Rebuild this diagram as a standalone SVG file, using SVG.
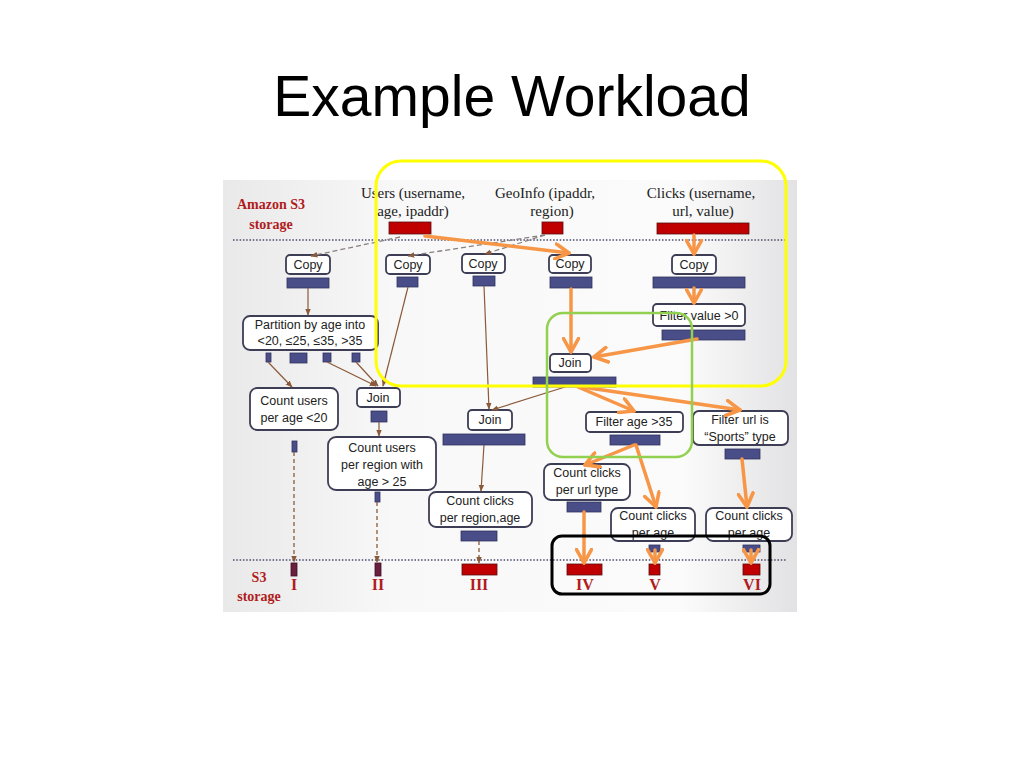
<svg xmlns="http://www.w3.org/2000/svg" width="1024" height="768" viewBox="0 0 1024 768">
<defs>
<linearGradient id="bg" x1="0" y1="0" x2="1" y2="0">
<stop offset="0" stop-color="#e9e9ea"/>
<stop offset="0.3" stop-color="#f8f8f8"/>
<stop offset="0.8" stop-color="#fbfbfb"/>
<stop offset="1" stop-color="#e2e2e4"/>
</linearGradient>
<marker id="ab" viewBox="0 0 10 10" refX="9" refY="5" markerWidth="7" markerHeight="7" orient="auto" markerUnits="userSpaceOnUse">
<path d="M0,1 L10,5 L0,9 Z" fill="#8a5a3a"/>
</marker>
<marker id="ao" viewBox="0 0 12 12" refX="10" refY="6" markerWidth="18" markerHeight="18" orient="auto" markerUnits="userSpaceOnUse">
<path d="M1,1 L10,6 L1,11" fill="none" stroke="#f79646" stroke-width="2.4" stroke-linecap="round" stroke-linejoin="round"/>
</marker>
</defs>
<style>
.node{fill:#ffffff;stroke:#3d3d55;stroke-width:1.8}
.bar{fill:#4a4e88;stroke:#30325e;stroke-width:0.8}
.red{fill:#c00000;stroke:#5a1010;stroke-width:0.8}
.dk{fill:#6a1f3c;stroke:#40102a;stroke-width:0.8}
.t{font-family:"Liberation Sans",Arial,sans-serif;font-size:12.5px;fill:#222;text-anchor:middle}
.s{font-family:"Liberation Serif","Times New Roman",serif;font-size:15px;fill:#222;text-anchor:middle}
.rl{font-family:"Liberation Serif","Times New Roman",serif;font-size:14px;font-weight:bold;fill:#b01c1c;text-anchor:middle}
.rn{font-family:"Liberation Serif","Times New Roman",serif;font-size:16px;font-weight:bold;fill:#b01c1c;text-anchor:middle}
.br{stroke:#8a5a3a;stroke-width:1.2;fill:none;marker-end:url(#ab)}
.brd{stroke:#8a5a3a;stroke-width:1.3;fill:none;stroke-dasharray:4,3;marker-end:url(#ab)}
.gd{stroke:#8a8080;stroke-width:1.3;fill:none;stroke-dasharray:5,3;marker-end:url(#ab)}
.or{stroke:#f79646;stroke-width:3.5;fill:none;marker-end:url(#ao);stroke-linecap:round}
.dot{stroke:#4a4a6a;stroke-width:1.3;stroke-dasharray:1.5,1.8}
</style>
<rect width="1024" height="768" fill="#ffffff"/>
<text x="512" y="116" font-family="Liberation Sans,Arial,sans-serif" font-size="57" text-anchor="middle" fill="#000">Example Workload</text>
<rect x="223" y="180" width="574" height="432" fill="url(#bg)"/>
<line class="dot" x1="233" y1="240" x2="787" y2="240"/>
<line class="dot" x1="233" y1="560" x2="787" y2="560"/>
<g id="labels">
<text class="rl" x="271" y="209">Amazon S3</text>
<text class="rl" x="271" y="229">storage</text>
<text class="rl" x="259" y="582">S3</text>
<text class="rl" x="259" y="601">storage</text>
</g>
<g id="users">
<text class="s" x="413" y="198">Users (username,</text>
<text class="s" x="413" y="216">age, ipaddr)</text>
<rect class="red" x="389" y="222" width="42" height="12"/>
</g>
<g id="geoinfo">
<text class="s" x="545" y="198">GeoInfo (ipaddr,</text>
<text class="s" x="552" y="216">region)</text>
<rect class="red" x="542" y="222" width="21" height="12"/>
</g>
<g id="clicks">
<text class="s" x="701" y="198">Clicks (username,</text>
<text class="s" x="703" y="216">url, value)</text>
<rect class="red" x="657" y="223" width="92" height="11"/>
</g>
<g id="copy1"><rect class="node" x="286" y="255" width="44" height="19" rx="4"/><text class="t" x="308" y="269">Copy</text><rect class="bar" x="287" y="278" width="42" height="10"/></g>
<g id="copy2"><rect class="node" x="386" y="255" width="44" height="19" rx="4"/><text class="t" x="408" y="269">Copy</text><rect class="bar" x="397" y="277" width="21" height="10"/></g>
<g id="copy3"><rect class="node" x="462" y="254" width="43" height="19" rx="4"/><text class="t" x="483" y="268">Copy</text><rect class="bar" x="473" y="276" width="22" height="10"/></g>
<g id="copy4"><rect class="node" x="549" y="255" width="42" height="18" rx="4"/><text class="t" x="570" y="268">Copy</text><rect class="bar" x="550" y="277" width="42" height="11"/></g>
<g id="copy5"><rect class="node" x="672" y="255" width="44" height="19" rx="4"/><text class="t" x="694" y="269">Copy</text><rect class="bar" x="653" y="277" width="92" height="11"/></g>
<g id="filtervalue"><rect class="node" x="653" y="304" width="92" height="22" rx="4"/><text class="t" x="699" y="320">Filter value &gt;0</text><rect class="bar" x="662" y="330" width="83" height="10"/></g>
<g id="join-green"><rect class="node" x="550" y="354" width="41" height="18" rx="4"/><text class="t" x="570" y="367">Join</text><rect class="bar" x="533" y="377" width="83" height="10"/></g>
<g id="partition"><rect class="node" x="243" y="316" width="135" height="34" rx="7"/><text class="t" x="310" y="329">Partition by age into</text><text class="t" x="310" y="345">&lt;20, ≤25, ≤35, &gt;35</text>
<rect class="bar" x="266" y="353" width="5" height="9"/><rect class="bar" x="290" y="353" width="17" height="10"/><rect class="bar" x="323" y="353" width="8" height="9"/><rect class="bar" x="352" y="353" width="8" height="9"/></g>
<g id="countusers20"><rect class="node" x="250" y="388" width="88" height="42" rx="7"/><text class="t" x="294" y="405">Count users</text><text class="t" x="294" y="422">per age &lt;20</text><rect class="bar" x="292" y="441" width="5" height="11"/></g>
<g id="join-left"><rect class="node" x="357" y="388" width="43" height="19" rx="4"/><text class="t" x="378" y="402">Join</text><rect class="bar" x="371" y="411" width="16" height="11"/></g>
<g id="countusersregion"><rect class="node" x="328" y="437" width="108" height="53" rx="8"/><text class="t" x="382" y="452">Count users</text><text class="t" x="382" y="469">per region with</text><text class="t" x="382" y="486">age &gt; 25</text><rect class="bar" x="375" y="492" width="5" height="10"/></g>
<g id="join-mid"><rect class="node" x="468" y="410" width="44" height="20" rx="4"/><text class="t" x="490" y="424">Join</text><rect class="bar" x="443" y="434" width="82" height="11"/></g>
<g id="countclicksregion"><rect class="node" x="429" y="492" width="103" height="35" rx="7"/><text class="t" x="480" y="505">Count clicks</text><text class="t" x="480" y="522">per region,age</text><rect class="bar" x="461" y="531" width="36" height="10"/></g>
<g id="filterage"><rect class="node" x="586" y="412" width="97" height="20" rx="4"/><text class="t" x="634" y="426">Filter age &gt;35</text><rect class="bar" x="610" y="435" width="50" height="10"/></g>
<g id="filterurl"><rect class="node" x="693" y="411" width="95" height="34" rx="6"/><text class="t" x="740" y="424">Filter url is</text><text class="t" x="740" y="441">“Sports” type</text><rect class="bar" x="725" y="449" width="35" height="10"/></g>
<g id="countclicksurl"><rect class="node" x="544" y="464" width="86" height="36" rx="7"/><text class="t" x="587" y="477">Count clicks</text><text class="t" x="587" y="494">per url type</text><rect class="bar" x="567" y="502" width="34" height="10"/></g>
<g id="countclicksage5"><rect class="node" x="611" y="508" width="84" height="33" rx="7"/><text class="t" x="653" y="520">Count clicks</text><text class="t" x="653" y="537">per age</text><rect class="bar" x="649" y="545" width="11" height="7"/></g>
<g id="countclicksage6"><rect class="node" x="706" y="508" width="86" height="33" rx="7"/><text class="t" x="749" y="520">Count clicks</text><text class="t" x="749" y="537">per age</text><rect class="bar" x="743" y="545" width="17" height="7"/></g>
<g id="outputs">
<rect class="dk" x="291" y="563" width="6" height="13"/><text class="rn" x="294" y="590">I</text>
<rect class="dk" x="375" y="563" width="6" height="13"/><text class="rn" x="378" y="590">II</text>
<rect class="red" x="462" y="564" width="35" height="11"/><text class="rn" x="479" y="590">III</text>
<rect class="red" x="567" y="564" width="35" height="11"/><text class="rn" x="585" y="590">IV</text>
<rect class="red" x="649" y="564" width="11" height="11"/><text class="rn" x="655" y="590">V</text>
<rect class="red" x="743" y="564" width="17" height="11"/><text class="rn" x="752" y="590">VI</text>
</g>
<g id="connectors">
<path class="gd" d="M400,237 L311,256"/>
<path class="gd" d="M545,235 L408,256"/>
<path class="gd" d="M545,235 L485,254"/>
<path class="br" d="M308,288 L308,315"/>
<path class="br" d="M408,287 L383,386"/>
<path class="br" d="M268,362 L292,387"/>
<path class="br" d="M327,362 L376,386"/>
<path class="br" d="M356,362 L378,386"/>
<path class="br" d="M379,422 L379,436"/>
<path class="br" d="M484,286 L489,409"/>
<path class="br" d="M565,387 L492,410"/>
<path class="br" d="M484,445 L481,491"/>
<path class="brd" d="M294,452 L294,562"/>
<path class="brd" d="M377,502 L377,562"/>
<path class="brd" d="M479,541 L479,563"/>
<path class="or" d="M425,236 L569,253"/>
<path class="or" d="M694,235 L694,254"/>
<path class="or" d="M694,288 L694,303"/>
<path class="or" d="M571,289 L571,352"/>
<path class="or" d="M697,339 L594,357"/>
<path class="or" d="M578,387 L634,411"/>
<path class="or" d="M582,387 L740,410"/>
<path class="or" d="M634,445 L585,465"/>
<path class="or" d="M636,445 L656,507"/>
<path class="or" d="M742,459 L747,507"/>
<path class="or" d="M584,512 L584,563"/>
<path class="or" d="M655,550 L655,563"/>
<path class="or" d="M751,550 L751,563"/>
</g>
<g id="highlights" fill="none">
<rect x="376" y="161" width="410" height="225" rx="25" stroke="#ffff00" stroke-width="3"/>
<rect x="547" y="313" width="145" height="144" rx="16" stroke="#92d050" stroke-width="2.5"/>
<rect x="552" y="536" width="218" height="58" rx="10" stroke="#000000" stroke-width="3"/>
</g>
</svg>
